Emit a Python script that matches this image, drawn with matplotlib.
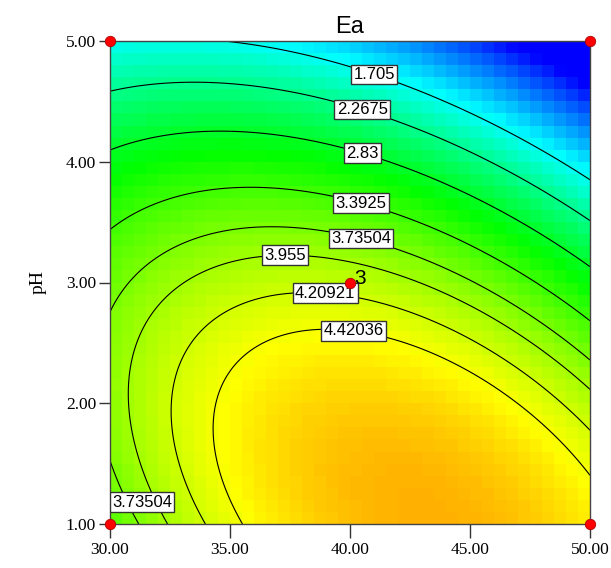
import numpy as np
import matplotlib
matplotlib.use("Agg")
import matplotlib.pyplot as plt
from matplotlib.colors import LinearSegmentedColormap

# Quadratic response-surface model for Ea (coded A=(T-40)/10, B=(pH-3)/2),
# fitted to contour positions
b0, bA, bB, bAB, bAA, bBB = 4.1124, -0.3177, -1.7561, -0.8541, -0.7894, -1.0495

x_range = [30.0, 50.0]
y_range = [1.0, 5.0]
n_cells = 40

levels = [1.705, 2.2675, 2.83, 3.3925, 3.73504, 3.955, 4.20921, 4.42036]
level_labels = ["1.705", "2.2675", "2.83", "3.3925", "3.73504", "3.955", "4.20921", "4.42036"]
label_x = [41.04, 40.54, 40.54, 40.46, 40.46, 37.29, 38.96, 40.125, 30.75]
label_y = [4.743, 4.453, 4.081, 3.658, 3.360, 3.211, 2.896, 2.565, 1.30]

design_x = [30, 30, 50, 50, 40]
design_y = [1, 5, 1, 5, 3]

xticks = [30, 35, 40, 45, 50]
yticks = [1, 2, 3, 4, 5]


def model(t, ph):
    a = (t - 40) / 10
    b = (ph - 3) / 2
    return b0 + bA * a + bB * b + bAB * a * b + bAA * a * a + bBB * b * b


fig = plt.figure(figsize=(6.11, 5.68), dpi=100)
ax = fig.add_axes([110 / 611, 44 / 568, 480 / 611, 483 / 568])

xs = np.linspace(x_range[0], x_range[1], n_cells + 1)
ys = np.linspace(y_range[0], y_range[1], n_cells + 1)
XC, YC = np.meshgrid((xs[:-1] + xs[1:]) / 2, (ys[:-1] + ys[1:]) / 2)
cmap = LinearSegmentedColormap.from_list(
    "de", [(0, (0, 0, 1)), (0.25, (0, 1, 1)), (0.5, (0, 1, 0)), (0.75, (1, 1, 0)), (1, (1, 0, 0))])
ax.pcolormesh(xs, ys, model(XC, YC), cmap=cmap, vmin=0.2, vmax=5.9, shading="flat")

xf = np.linspace(x_range[0], x_range[1], 300)
yf = np.linspace(y_range[0], y_range[1], 300)
XF, YF = np.meshgrid(xf, yf)
cs = ax.contour(XF, YF, model(XF, YF), levels=levels, colors="k", linewidths=0.8)

fmt = {lv: lb for lv, lb in zip(levels, level_labels)}
texts = ax.clabel(cs, levels=levels, fmt=fmt, inline=False, fontsize=12,
                  manual=list(zip(label_x, label_y)))
for t in texts:
    t.set_rotation(0)
    t.set_family("Liberation Sans")
    t.set_bbox(dict(boxstyle="square,pad=0.14", facecolor="white", edgecolor="#333333", linewidth=1.0))
    t.set_zorder(6)
# bottom-left label sits against the left edge in the reference
last = texts[-1]
last.set_position((31.33, 1.18))

ax.plot(design_x, design_y, "o", color="red", markersize=7.5, markeredgecolor="#aa0000",
        markeredgewidth=0.6, clip_on=False, zorder=10)
ax.annotate("3", (design_x[-1], design_y[-1]), xytext=(3, -4), textcoords="offset points",
            fontsize=15, family="Liberation Sans", ha="left", va="bottom", zorder=10)

ax.set_xlim(*x_range)
ax.set_ylim(*y_range)
ax.set_xticks(xticks)
ax.set_yticks(yticks)
ax.set_xticklabels([f"{v:.2f}" for v in xticks], family="Liberation Serif", fontsize=12.5)
ax.set_yticklabels([f"{v:.2f}" for v in yticks], family="Liberation Serif", fontsize=12.5)
ax.tick_params(axis="x", length=10, width=1, color="#333333", pad=3)
ax.tick_params(axis="y", length=8, width=1, color="#333333", pad=2)
for s in ax.spines.values():
    s.set_color("#444444")
    s.set_linewidth(1.0)
ax.set_ylabel("pH", family="Liberation Serif", fontsize=14, labelpad=14)
ax.set_title("Ea", family="Liberation Sans", fontsize=17, pad=6)

fig.savefig("out.png", dpi=100)
